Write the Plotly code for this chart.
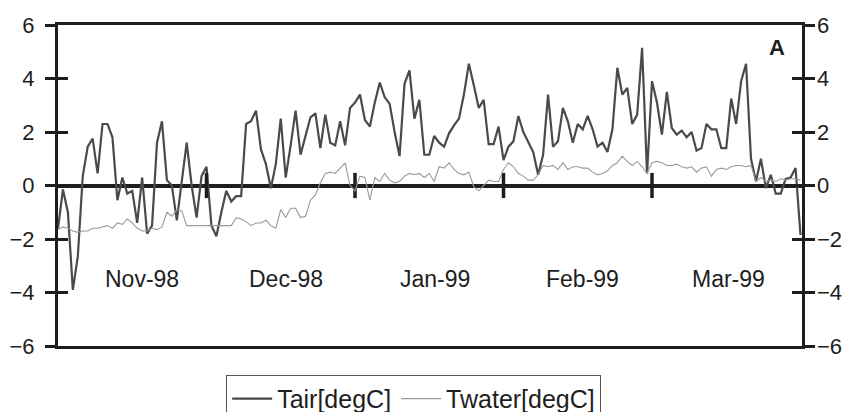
import plotly.graph_objects as go

# ---- data ----
day_index = list(range(151))  # daily samples, 1 Nov 1998 .. 31 Mar 1999

tair = [
    -1.6, -0.15, -1.0, -3.9, -2.65, 0.35, 1.45, 1.75, 0.45, 2.3,
    2.3, 1.8, -0.55, 0.3, -0.3, -0.2, -1.4, 0.3, -1.8, -1.5,
    1.6, 2.4, 0.2, 0.0, -1.3, 0.1, 1.6, 0.0, -1.2, 0.35,
    0.7, -1.5, -1.9, -1.0, -0.2, -0.6, -0.4, -0.4, 2.3, 2.4,
    2.8, 1.35, 0.8, -0.1, 0.8, 2.5, 0.3, 1.5, 2.8, 1.15,
    1.9, 2.55, 2.7, 1.4, 2.65, 1.6, 1.5, 2.4, 1.5, 2.9,
    3.1, 3.4, 2.45, 2.2, 3.1, 3.85, 3.3, 3.05, 2.0, 1.1,
    3.8, 4.3, 2.5, 3.2, 1.15, 1.15, 1.85, 1.6, 1.45, 1.95,
    2.25, 2.5, 3.4, 4.55, 3.75, 2.9, 3.2, 1.55, 1.55, 2.2,
    0.95, 1.45, 1.65, 2.6, 2.0, 1.6, 1.25, 0.4, 1.15, 3.4,
    1.45, 1.65, 2.9, 2.4, 1.6, 2.3, 2.1, 2.6, 2.1, 1.45,
    1.6, 1.25, 2.1, 4.4, 3.4, 3.65, 2.3, 2.65, 5.15, 0.45,
    3.9, 3.1, 1.9, 3.5, 2.15, 1.9, 2.05, 1.8, 2.0, 1.3,
    1.4, 2.3, 2.1, 2.1, 1.4, 1.4, 3.25, 2.3, 3.9, 4.55,
    1.0, 0.15, 1.0, -0.1, 0.4, -0.3, -0.3, 0.25, 0.3, 0.65,
    -1.85,
]

twater = [
    -1.65, -1.55, -1.6, -1.7, -1.75, -1.7, -1.7, -1.6, -1.6, -1.55,
    -1.5, -1.6, -1.4, -1.45, -1.25, -1.4, -1.6, -1.7, -1.7, -1.6,
    -1.65, -1.55, -1.0, -1.15, -0.9, -0.95, -1.5, -1.5, -1.5, -1.5,
    -1.5, -1.5, -1.5, -1.5, -1.5, -1.5, -1.2, -1.25, -1.35, -1.5,
    -1.4, -1.4, -1.3, -1.5, -1.6, -0.9, -1.2, -0.85, -0.85, -1.2,
    -1.15, -0.55, -0.35, 0.1, 0.45, 0.5, 0.45, 0.65, 0.85, 0.0,
    -0.2, 0.35, 0.3, -0.55, 0.3, 0.15, 0.45, 0.2, 0.1, 0.15,
    0.35, 0.45, 0.4, 0.45, 0.3, 0.45, 0.15, 0.7, 0.65, 0.85,
    0.6, 0.45, 0.4, 0.5, -0.05, -0.2, 0.0, 0.2, 0.15, 0.15,
    0.6, 0.85, 0.7, 0.45, 0.35, 0.2, 0.2, 0.4, 0.75, 0.7,
    0.75, 0.6, 0.85, 0.6, 0.7, 0.7, 0.65, 0.65, 0.5, 0.4,
    0.45, 0.55, 0.75, 0.85, 1.1, 0.9, 0.75, 0.9, 0.7, 0.45,
    0.85, 0.9, 0.85, 0.75, 0.75, 0.8, 0.7, 0.65, 0.7, 0.5,
    0.65, 0.7, 0.35, 0.6, 0.65, 0.6, 0.7, 0.75, 0.75, 0.7,
    0.75, 0.15, 0.3, 0.15, 0.2, 0.15, 0.25, 0.2, 0.25, 0.25,
    0.2,
]

month_labels = ["Nov-98", "Dec-98", "Jan-99", "Feb-99", "Mar-99"]
month_label_pos = [17, 46, 76.2, 106, 135.5]
month_tick_pos = [30, 60, 90, 120]
y_ticks = [-6, -4, -2, 0, 2, 4, 6]

FONT = "Liberation Sans, Arial, sans-serif"
INK = "#1e1e1e"

fig = go.Figure()
fig.add_trace(go.Scatter(
    x=day_index, y=tair, mode="lines", name="Tair[degC]",
    line=dict(color="#4a4a4a", width=2.2),
))
fig.add_trace(go.Scatter(
    x=day_index, y=twater, mode="lines", name="Twater[degC]",
    line=dict(color="#9a9a9a", width=1.1), yaxis="y2",
))
# month separators on the zero line
fig.add_trace(go.Scatter(
    x=month_tick_pos, y=[0] * len(month_tick_pos), mode="markers",
    marker=dict(symbol="line-ns", size=18, line=dict(color=INK, width=3.5)),
    showlegend=False, hoverinfo="skip", cliponaxis=False,
))

for lab, xp in zip(month_labels, month_label_pos):
    fig.add_annotation(x=xp, y=-3.5, text=lab, showarrow=False,
                       font=dict(family=FONT, size=23, color=INK),
                       xanchor="center", yanchor="middle")

fig.add_annotation(x=0.967, y=0.93, xref="paper", yref="paper", text="<b>A</b>",
                   showarrow=False, font=dict(family=FONT, size=22, color=INK),
                   xanchor="center", yanchor="middle")

# the page body adds an 8px offset; the figure fills the rest of the window
fig.update_layout(
    width=842, height=404,
    margin=dict(l=50, r=48, t=17, b=66, autoexpand=False),
    paper_bgcolor="white", plot_bgcolor="white",
    font=dict(family=FONT, color=INK),
    showlegend=True,
    legend=dict(orientation="h", x=0.226, y=-0.09, xanchor="left", yanchor="top",
                bordercolor="#555", borderwidth=1, bgcolor="white",
                font=dict(family=FONT, size=25, color=INK),
                tracegroupgap=0, itemwidth=40),
    xaxis=dict(range=[0, 150.3], showgrid=False, zeroline=False, automargin=False,
               showticklabels=False, ticks="", showline=True,
               linecolor=INK, linewidth=3, mirror=True),
    yaxis=dict(range=[-6, 6], tickvals=y_ticks, showgrid=False, automargin=False,
               zeroline=True, zerolinecolor=INK, zerolinewidth=3.5,
               showline=True, linecolor=INK, linewidth=3, mirror="allticks",
               ticks="outside", ticklen=10, tickwidth=3, tickcolor=INK,
               ticklabelstandoff=6,
               tickfont=dict(family=FONT, size=22, color=INK)),
    yaxis2=dict(range=[-6, 6], tickvals=y_ticks, overlaying="y", side="right",
                showgrid=False, zeroline=False, showline=False, automargin=False,
                mirror="allticks",
                ticks="inside", ticklen=10, tickwidth=3, tickcolor=INK,
                ticklabelstandoff=14,
                tickfont=dict(family=FONT, size=22, color=INK)),
)

fig.write_html("out.html")
